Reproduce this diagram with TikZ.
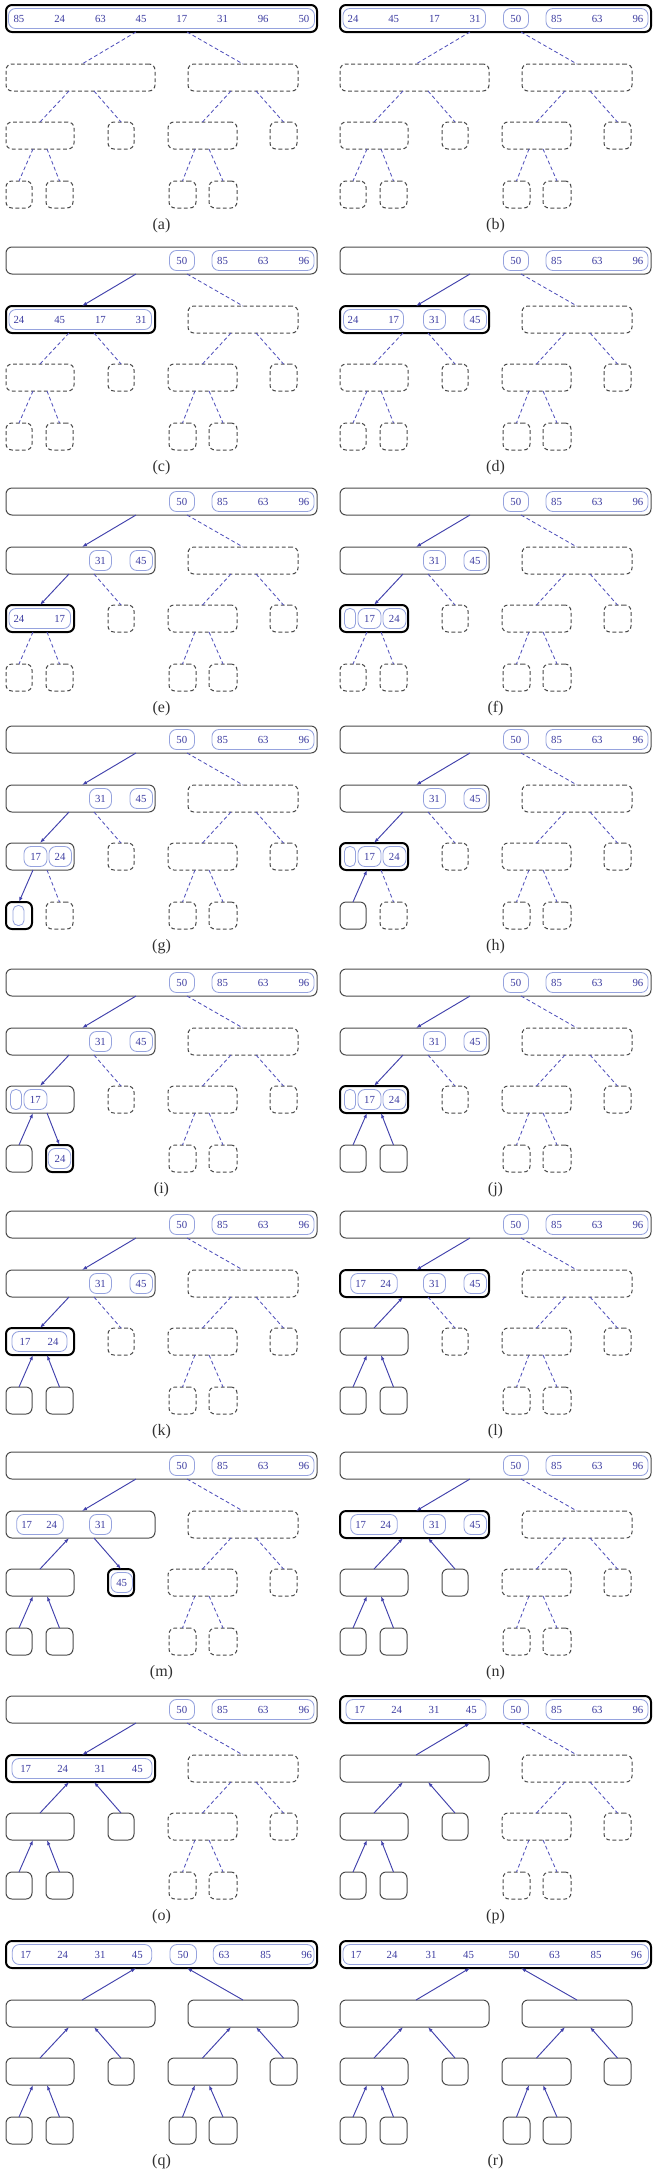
\documentclass[tikz,border=0pt]{standalone}
\usepackage{fontspec}
\setmainfont{Liberation Serif}
\usetikzlibrary{arrows.meta}
\definecolor{boxgray}{HTML}{4A4A4A}
\definecolor{edgeblue}{HTML}{4242AC}
\definecolor{dashblue}{HTML}{5252BC}
\definecolor{txtblue}{HTML}{3C3CA0}
\definecolor{inblue}{HTML}{96A3DE}
\definecolor{labgray}{HTML}{303030}
\tikzset{
 tbox/.style={rectangle, rounded corners=6pt, minimum height=27pt, inner sep=0pt, outer sep=0pt},
 sbox/.style={tbox, draw=boxgray, line width=1pt},
 dbox/.style={tbox, draw=boxgray, line width=1pt, dash pattern=on 3.8pt off 2.6pt},
 hbox/.style={tbox, draw=black, line width=2pt},
 dedge/.style={draw=dashblue, line width=0.85pt, dash pattern=on 3.8pt off 2.6pt},
 darr/.style={draw=edgeblue, line width=0.95pt, -{Latex[length=5pt,width=3.6pt]}},
 uarr/.style={draw=edgeblue, line width=0.95pt, {Latex[length=5pt,width=3.6pt]}-},
 ibox/.style={draw=inblue, line width=0.85pt, rounded corners=7pt},
 pbox/.style={draw=inblue, line width=0.85pt, rounded corners=5pt},
 num/.style={text=txtblue, font=\fontsize{10.8}{12}\selectfont, inner sep=0pt},
 lab/.style={text=labgray, font=\fontsize{16}{18}\selectfont, inner sep=0pt},
}
\newcount\nn
\newcommand\nodes[8]{%
 \node[#2,minimum width=311pt] (#1R) at (161.5,18.5) {};
 \node[#3,minimum width=149pt] (#1A) at (80.5,77.5) {};
 \node[#8,minimum width=110pt] (#1B) at (243,77.5) {};
 \node[#4,minimum width=68pt] (#1C) at (40,135.5) {};
 \node[#5,minimum width=26pt] (#1D) at (121,135.5) {};
 \node[#8,minimum width=69pt] (#1E) at (202.5,135.5) {};
 \node[#8,minimum width=27pt] (#1F) at (283.5,135.5) {};
 \node[#6,minimum width=26pt] (#1G) at (19,194.5) {};
 \node[#7,minimum width=27pt] (#1H) at (59.5,194.5) {};
 \node[#8,minimum width=27pt] (#1I) at (182.5,194.5) {};
 \node[#8,minimum width=28pt] (#1J) at (223,194.5) {};
}
\newcommand\edges[7]{%
 \draw[#2] ([xshift=-25.5pt]#1R.south) -- ([xshift=1.5pt]#1A.north);
 \draw[#7] ([xshift=25.5pt]#1R.south) -- (#1B.north);
 \draw[#3] ([xshift=-11.5pt]#1A.south) -- (#1C.north);
 \draw[#4] ([xshift=13.5pt]#1A.south) -- (#1D.north);
 \draw[#7] ([xshift=-12pt]#1B.south) -- (#1E.north);
 \draw[#7] ([xshift=13pt]#1B.south) -- (#1F.north);
 \draw[#5] ([xshift=-7pt]#1C.south) -- (#1G.north);
 \draw[#6] ([xshift=7pt]#1C.south) -- (#1H.north);
 \draw[#7] ([xshift=-7.5pt]#1E.south) -- (#1I.north);
 \draw[#7] ([xshift=6.5pt]#1E.south) -- (#1J.north);
}
\newcommand\ib[3]{\draw[ibox] (#1,#3-10) rectangle (#2,#3+10);}
\newcommand\pill[3]{\draw[pbox] (#1,#3-10) rectangle (#2,#3+10);}
\newcommand\nm[3]{\global\advance\nn by 1 \node[num] (t\the\nn) at (#1,#2) {#3};}
\newcommand\nms[2]{\foreach \xx/\tt in {#2} {\nm{\xx}{#1}{\tt}}}
\newcommand\lb[1]{\node[lab] (lab#1) at (161.5,226) {(#1)};}
\newcommand\stdroot{\ib{169.5}{194.5}{18.5}\ib{212}{314}{18.5}%
 \nms{18.5}{181.8/50,222.5/85,263.2/63,303.9/96}}
\newcommand\stdA{\ib{89.5}{111.5}{77.5}\ib{130}{152.5}{77.5}%
 \nms{77.5}{100.4/31,141.1/45}}
\newcommand\twoA{\ib{16.7}{63.3}{77.5}\nms{77.5}{26.7/17,51.7/24}}
\newcommand\splitC{\pill{10.5}{21.5}{135.5}\ib{24}{47}{135.5}\ib{49}{72}{135.5}%
 \nms{135.5}{35.5/17,60.3/24}}
\begin{document}
\begin{tikzpicture}[x=1pt,y=-1pt]
\useasboundingbox (0,0) rectangle (662,2174);
% (a)
\begin{scope}[shift={(0,0)}]
\nodes{a}{hbox}{dbox}{dbox}{dbox}{dbox}{dbox}{dbox}
\edges{a}{dedge}{dedge}{dedge}{dedge}{dedge}{dedge}
\ib{8.5}{314.5}{18.5}
\nms{18.5}{19/85,59.7/24,100.4/63,141.1/45,181.8/17,222.5/31,263.2/96,303.9/50}
\lb{a}
\end{scope}
% (b)
\begin{scope}[shift={(334,0)}]
\nodes{b}{hbox}{dbox}{dbox}{dbox}{dbox}{dbox}{dbox}
\edges{b}{dedge}{dedge}{dedge}{dedge}{dedge}{dedge}
\ib{9}{151.5}{18.5}\ib{169.5}{194.5}{18.5}\ib{212}{314}{18.5}
\nms{18.5}{19/24,59.7/45,100.4/17,141.1/31,181.8/50,222.5/85,263.2/63,303.9/96}
\lb{b}
\end{scope}
% (c)
\begin{scope}[shift={(0,242)}]
\nodes{c}{sbox}{hbox}{dbox}{dbox}{dbox}{dbox}{dbox}
\edges{c}{darr}{dedge}{dedge}{dedge}{dedge}{dedge}
\stdroot
\ib{9}{151.5}{77.5}
\nms{77.5}{19/24,59.7/45,100.4/17,141.1/31}
\lb{c}
\end{scope}
% (d)
\begin{scope}[shift={(334,242)}]
\nodes{d}{sbox}{hbox}{dbox}{dbox}{dbox}{dbox}{dbox}
\edges{d}{darr}{dedge}{dedge}{dedge}{dedge}{dedge}
\stdroot
\ib{9.5}{69.5}{77.5}\ib{89.5}{111.5}{77.5}\ib{130}{152.5}{77.5}
\nms{77.5}{19/24,59.7/17,100.4/31,141.1/45}
\lb{d}
\end{scope}
% (e)
\begin{scope}[shift={(0,483)}]
\nodes{e}{sbox}{sbox}{hbox}{dbox}{dbox}{dbox}{dbox}
\edges{e}{darr}{darr}{dedge}{dedge}{dedge}{dedge}
\stdroot\stdA
\ib{9}{70.5}{135.5}
\nms{135.5}{19/24,59.7/17}
\lb{e}
\end{scope}
% (f)
\begin{scope}[shift={(334,483)}]
\nodes{f}{sbox}{sbox}{hbox}{dbox}{dbox}{dbox}{dbox}
\edges{f}{darr}{darr}{dedge}{dedge}{dedge}{dedge}
\stdroot\stdA\splitC
\lb{f}
\end{scope}
% (g)
\begin{scope}[shift={(0,721)}]
\nodes{g}{sbox}{sbox}{sbox}{dbox}{hbox}{dbox}{dbox}
\edges{g}{darr}{darr}{dedge}{darr}{dedge}{dedge}
\stdroot\stdA
\ib{24}{47}{135.5}\ib{49}{71.5}{135.5}
\nms{135.5}{35.7/17,60/24}
\pill{13}{24}{194.5}
\lb{g}
\end{scope}
% (h)
\begin{scope}[shift={(334,721)}]
\nodes{h}{sbox}{sbox}{hbox}{dbox}{sbox}{dbox}{dbox}
\edges{h}{darr}{darr}{dedge}{uarr}{dedge}{dedge}
\stdroot\stdA\splitC
\lb{h}
\end{scope}
% (i)
\begin{scope}[shift={(0,964)}]
\nodes{i}{sbox}{sbox}{sbox}{dbox}{sbox}{hbox}{dbox}
\edges{i}{darr}{darr}{dedge}{uarr}{darr}{dedge}
\stdroot\stdA
\pill{10.5}{21.5}{135.5}\ib{24}{47}{135.5}
\nms{135.5}{35.3/17}
\ib{48.3}{70.7}{194.5}
\nms{194.5}{60/24}
\lb{i}
\end{scope}
% (j)
\begin{scope}[shift={(334,964)}]
\nodes{j}{sbox}{sbox}{hbox}{dbox}{sbox}{sbox}{dbox}
\edges{j}{darr}{darr}{dedge}{uarr}{uarr}{dedge}
\stdroot\stdA\splitC
\lb{j}
\end{scope}
% (k)
\begin{scope}[shift={(0,1206)}]
\nodes{k}{sbox}{sbox}{hbox}{dbox}{sbox}{sbox}{dbox}
\edges{k}{darr}{darr}{dedge}{uarr}{uarr}{dedge}
\stdroot\stdA
\ib{12}{67}{135.5}
\nms{135.5}{25/17,53/24}
\lb{k}
\end{scope}
% (l)
\begin{scope}[shift={(334,1206)}]
\nodes{l}{sbox}{hbox}{sbox}{dbox}{sbox}{sbox}{dbox}
\edges{l}{darr}{uarr}{dedge}{uarr}{uarr}{dedge}
\stdroot\stdA\twoA
\lb{l}
\end{scope}
% (m)
\begin{scope}[shift={(0,1447)}]
\nodes{m}{sbox}{sbox}{sbox}{hbox}{sbox}{sbox}{dbox}
\edges{m}{darr}{uarr}{darr}{uarr}{uarr}{dedge}
\stdroot\twoA
\ib{89.5}{111.5}{77.5}\nms{77.5}{100.4/31}
\ib{111}{132.5}{135.5}\nms{135.5}{121.7/45}
\lb{m}
\end{scope}
% (n)
\begin{scope}[shift={(334,1447)}]
\nodes{n}{sbox}{hbox}{sbox}{sbox}{sbox}{sbox}{dbox}
\edges{n}{darr}{uarr}{uarr}{uarr}{uarr}{dedge}
\stdroot\stdA\twoA
\lb{n}
\end{scope}
% (o)
\begin{scope}[shift={(0,1691)}]
\nodes{o}{sbox}{hbox}{sbox}{sbox}{sbox}{sbox}{dbox}
\edges{o}{darr}{uarr}{uarr}{uarr}{uarr}{dedge}
\stdroot
\ib{12}{152}{77.5}
\nms{77.5}{25.7/17,62.7/24,100/31,137.3/45}
\lb{o}
\end{scope}
% (p)
\begin{scope}[shift={(334,1691)}]
\nodes{p}{hbox}{sbox}{sbox}{sbox}{sbox}{sbox}{dbox}
\edges{p}{uarr}{uarr}{uarr}{uarr}{uarr}{dedge}
\ib{12}{152}{18.5}\ib{169.5}{194.5}{18.5}\ib{212}{314}{18.5}
\nms{18.5}{25.7/17,62.7/24,100/31,137.3/45,181.8/50,222.5/85,263.2/63,303.9/96}
\lb{p}
\end{scope}
% (q)
\begin{scope}[shift={(0,1936)}]
\nodes{q}{hbox}{sbox}{sbox}{sbox}{sbox}{sbox}{sbox}
\edges{q}{uarr}{uarr}{uarr}{uarr}{uarr}{uarr}
\ib{12.3}{151.7}{18.5}\ib{170}{196.5}{18.5}\ib{213.3}{314}{18.5}
\nms{18.5}{25.7/17,62.7/24,100/31,137.3/45,183/50,224/63,265.7/85,306.7/96}
\lb{q}
\end{scope}
% (r)
\begin{scope}[shift={(334,1936)}]
\nodes{r}{hbox}{sbox}{sbox}{sbox}{sbox}{sbox}{sbox}
\edges{r}{uarr}{uarr}{uarr}{uarr}{uarr}{uarr}
\ib{9}{314.5}{18.5}
\nms{18.5}{22/17,58/24,97/31,134.5/45,180/50,220.6/63,262/85,302.6/96}
\lb{r}
\end{scope}
\end{tikzpicture}
\end{document}
